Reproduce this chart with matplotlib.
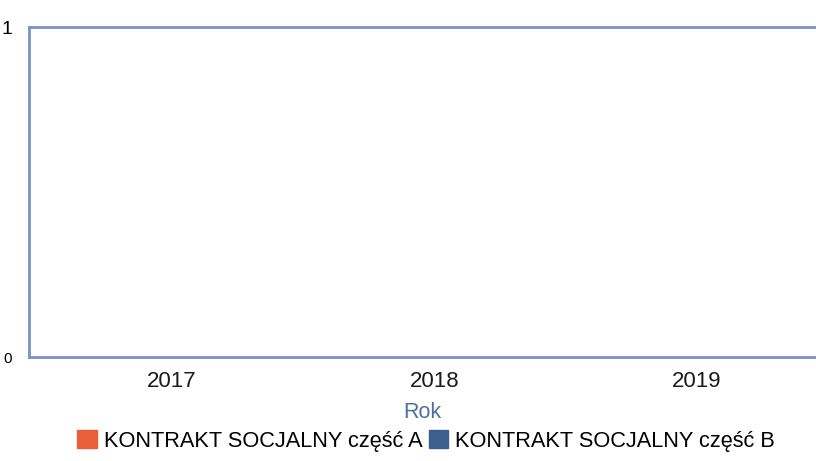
import matplotlib
matplotlib.use("Agg")
import matplotlib.pyplot as plt
from matplotlib.patches import Patch

years = ["2017", "2018", "2019"]
series_a = [0, 0, 0]
series_b = [0, 0, 0]
labels = ["KONTRAKT SOCJALNY część A", "KONTRAKT SOCJALNY część B"]
colors = ["#e8603a", "#3b5f8f"]

plt.rcParams['font.family'] = ['Liberation Sans', 'DejaVu Sans']

fig = plt.figure(figsize=(8.16, 4.61), dpi=100)
ax = fig.add_axes([29 / 816, 1 - 357 / 461, 1 - 29 / 816, 330 / 461])

x = list(range(len(years)))
w = 0.35
ax.bar([i - w / 2 for i in x], series_a, width=w, color=colors[0])
ax.bar([i + w / 2 for i in x], series_b, width=w, color=colors[1])

ax.set_xlim(-0.545, 2.453)
ax.set_ylim(0, 1)
ax.set_yticks([0, 1])
ax.set_yticklabels(["0", "1"])
ax.set_xticks(x)
ax.set_xticklabels(years, fontsize=16, color="#1a1a1a")
ax.tick_params(length=0)
ax.tick_params(axis='x', pad=10)
ax.tick_params(axis='y', pad=12)
for lbl, fs in zip(ax.get_yticklabels(), [11, 14]):
    lbl.set_fontsize(fs)

frame = "#7b92c9"
for s in ["left", "top", "bottom"]:
    ax.spines[s].set_color(frame)
    ax.spines[s].set_linewidth(2)
ax.spines["right"].set_visible(False)

ax.set_xlabel("Rok", fontsize=15.5, color="#4c6f9c", labelpad=7)

handles = [Patch(facecolor=c, edgecolor=c) for c in colors]
fig.legend(handles, labels, loc="center", bbox_to_anchor=(426 / 816, 1 - 441 / 461),
           ncol=2, frameon=False, fontsize=15.7, handlelength=0.9, handleheight=0.9,
           handletextpad=0.3, columnspacing=0.3)

fig.savefig("out.png", dpi=100)
